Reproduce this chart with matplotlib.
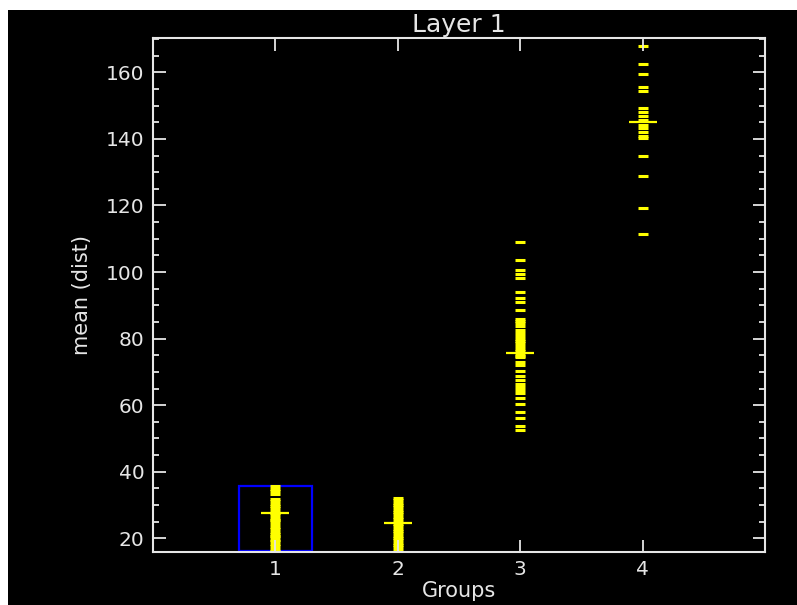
import matplotlib
matplotlib.use("Agg")
import matplotlib.pyplot as plt
from matplotlib.patches import Rectangle
from matplotlib.ticker import MultipleLocator

# values
groups = [1, 2, 3, 4]
group1 = [35.6, 34.9, 34.1, 33.4, 31.8, 31.1, 30.4, 29.7, 29.0, 28.3, 27.6, 26.9,
          26.2, 25.5, 25.1, 24.3, 23.5, 22.9, 22.0, 21.2, 20.8, 20.3, 19.5, 19.1,
          18.4, 17.6, 16.9, 16.3]
group2 = [32.0, 31.4, 30.6, 29.9, 29.3, 28.5, 27.8, 27.2, 26.4, 25.7, 25.0, 24.2,
          23.6, 22.9, 22.1, 21.5, 20.8, 20.1, 19.4, 18.6, 18.0, 17.3, 16.6]
group3 = [108.9, 103.5, 100.6, 99.5, 98.2, 93.9, 92.1, 91.0, 88.5, 86.0, 85.2, 84.7,
          83.7, 82.5, 81.6, 80.8, 80.0, 79.3, 78.8, 77.7, 77.0, 76.2, 75.5, 74.8,
          74.5, 72.9, 72.2, 70.3, 68.9, 67.5, 66.3, 65.5, 64.7, 63.8, 62.1, 60.3,
          58.0, 56.1, 53.6, 52.6]
group4 = [168.0, 162.6, 159.6, 155.6, 154.5, 149.4, 148.2, 147.0, 145.7, 144.1,
          143.2, 142.1, 141.0, 140.2, 134.9, 128.8, 119.1, 111.4]
group_means = [27.7, 24.7, 75.8, 145.0]
y_ticks = [20, 40, 60, 80, 100, 120, 140, 160]

fg = "#e6e6e6"

fig = plt.figure(figsize=(7.97, 6.05), dpi=100, facecolor="white")
# black plotting window, small white strip at top and left like the screenshot
fig.patches.append(Rectangle((8 / 797, 0), 1, 1 - 10 / 605, transform=fig.transFigure,
                             facecolor="black", edgecolor="none", zorder=-10))

ax = fig.add_axes([153 / 797, 53 / 605, 612 / 797, 514 / 605])
ax.set_facecolor("black")
ax.set_axisbelow(False)

for x, vals in zip(groups, [group1, group2, group3, group4]):
    ax.plot([x] * len(vals), vals, linestyle="none", marker="_", markersize=7.5,
            markeredgewidth=2.2, color="#ffff00")
ax.plot(groups, group_means, linestyle="none", marker="_", markersize=19.5,
        markeredgewidth=1.6, color="#ffff00")

# selection box around group 1
ax.add_patch(Rectangle((0.7, min(group1)), 0.6, max(group1) - min(group1),
                       fill=False, edgecolor="#0000ff", linewidth=1.6, zorder=1.8))

ax.set_xlim(0, 5)
ax.set_ylim(15.9, 170.3)
ax.set_xticks(groups)
ax.set_yticks(y_ticks)
ax.yaxis.set_minor_locator(MultipleLocator(5))

for s in ax.spines.values():
    s.set_color(fg)
    s.set_linewidth(1.5)
ax.tick_params(which="both", direction="in", colors=fg, top=True, right=True, width=1.3)
ax.tick_params(which="major", length=9, labelsize=14.5, labelcolor=fg)
ax.tick_params(axis="x", which="major", pad=6)
ax.tick_params(axis="y", which="major", pad=6)
ax.tick_params(which="minor", length=4.5)

ax.set_title("Layer 1", color=fg, fontsize=18, pad=4)
ax.set_xlabel("Groups", color=fg, fontsize=15, labelpad=1)
ax.set_ylabel("mean (dist)", color=fg, fontsize=15, labelpad=10)

fig.savefig("out.png", dpi=100, facecolor=fig.get_facecolor())
